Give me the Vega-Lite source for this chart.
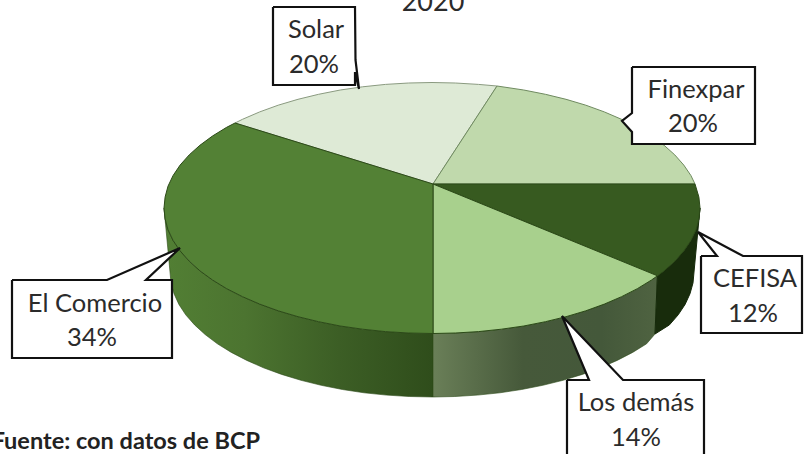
{"$schema":"https://vega.github.io/schema/vega-lite/v6.json","width":805,"height":454,"padding":0,"autosize":{"type":"none"},"background":"white","config":{"view":{"stroke":null}},
"datasets":{"shapes":[
{"part":"wallEC","i":1,"x":164,"y":208},{"part":"wallEC","i":2,"x":165.1,"y":218.9},{"part":"wallEC","i":3,"x":168,"y":229.8},{"part":"wallEC","i":4,"x":173.1,"y":240.5},{"part":"wallEC","i":5,"x":180.1,"y":250.9},{"part":"wallEC","i":6,"x":189.2,"y":261.1},{"part":"wallEC","i":7,"x":199.9,"y":270.8},{"part":"wallEC","i":8,"x":212.5,"y":280},{"part":"wallEC","i":9,"x":226.7,"y":288.7},{"part":"wallEC","i":10,"x":242.5,"y":296.7},{"part":"wallEC","i":11,"x":259.7,"y":304.1},{"part":"wallEC","i":12,"x":278.2,"y":310.8},{"part":"wallEC","i":13,"x":298,"y":316.7},{"part":"wallEC","i":14,"x":318.6,"y":321.7},{"part":"wallEC","i":15,"x":340.3,"y":326},{"part":"wallEC","i":16,"x":362.6,"y":329.2},{"part":"wallEC","i":17,"x":385.5,"y":331.6},{"part":"wallEC","i":18,"x":408.7,"y":333},{"part":"wallEC","i":19,"x":433,"y":333.5},{"part":"wallEC","i":20,"x":433,"y":397},{"part":"wallEC","i":21,"x":409.2,"y":396.5},{"part":"wallEC","i":22,"x":386.5,"y":395.1},{"part":"wallEC","i":23,"x":364.1,"y":392.8},{"part":"wallEC","i":24,"x":342.4,"y":389.5},{"part":"wallEC","i":25,"x":321.2,"y":385.3},{"part":"wallEC","i":26,"x":301,"y":380.3},{"part":"wallEC","i":27,"x":281.6,"y":374.4},{"part":"wallEC","i":28,"x":263.5,"y":367.8},{"part":"wallEC","i":29,"x":246.8,"y":360.4},{"part":"wallEC","i":30,"x":231.3,"y":352.4},{"part":"wallEC","i":31,"x":217.4,"y":343.8},{"part":"wallEC","i":32,"x":205.1,"y":334.5},{"part":"wallEC","i":33,"x":194.6,"y":324.9},{"part":"wallEC","i":34,"x":185.7,"y":314.8},{"part":"wallEC","i":35,"x":178.9,"y":304.4},{"part":"wallEC","i":36,"x":174,"y":293.7},{"part":"wallEC","i":37,"x":171,"y":282.9},{"part":"wallEC","i":38,"x":170,"y":272},{"part":"wallEC","i":39,"x":164,"y":208},
{"part":"wallLD","i":1,"x":433,"y":333.5},{"part":"wallLD","i":2,"x":455.3,"y":333},{"part":"wallLD","i":3,"x":478.5,"y":331.6},{"part":"wallLD","i":4,"x":501.4,"y":329.2},{"part":"wallLD","i":5,"x":523.7,"y":326},{"part":"wallLD","i":6,"x":545.4,"y":321.7},{"part":"wallLD","i":7,"x":566,"y":316.7},{"part":"wallLD","i":8,"x":585.8,"y":310.8},{"part":"wallLD","i":9,"x":604.3,"y":304.1},{"part":"wallLD","i":10,"x":621.5,"y":296.7},{"part":"wallLD","i":11,"x":637.3,"y":288.7},{"part":"wallLD","i":12,"x":651.5,"y":280},{"part":"wallLD","i":13,"x":657.4,"y":275.8},{"part":"wallLD","i":14,"x":655,"y":334},{"part":"wallLD","i":15,"x":646.6,"y":343.8},{"part":"wallLD","i":16,"x":632.7,"y":352.4},{"part":"wallLD","i":17,"x":617.2,"y":360.4},{"part":"wallLD","i":18,"x":600.4,"y":367.8},{"part":"wallLD","i":19,"x":582.4,"y":374.4},{"part":"wallLD","i":20,"x":563,"y":380.3},{"part":"wallLD","i":21,"x":542.8,"y":385.3},{"part":"wallLD","i":22,"x":521.6,"y":389.5},{"part":"wallLD","i":23,"x":499.9,"y":392.8},{"part":"wallLD","i":24,"x":477.5,"y":395.1},{"part":"wallLD","i":25,"x":454.8,"y":396.5},{"part":"wallLD","i":26,"x":433,"y":397},{"part":"wallLD","i":27,"x":433,"y":333.5},
{"part":"wallCE","i":1,"x":657.4,"y":275.8},{"part":"wallCE","i":2,"x":664.1,"y":270.8},{"part":"wallCE","i":3,"x":674.8,"y":261.1},{"part":"wallCE","i":4,"x":683.8,"y":250.9},{"part":"wallCE","i":5,"x":690.9,"y":240.5},{"part":"wallCE","i":6,"x":696,"y":229.8},{"part":"wallCE","i":7,"x":698.9,"y":218.9},{"part":"wallCE","i":8,"x":700,"y":208},{"part":"wallCE","i":9,"x":694,"y":272},{"part":"wallCE","i":10,"x":693,"y":282.9},{"part":"wallCE","i":11,"x":690,"y":293.7},{"part":"wallCE","i":12,"x":685.1,"y":304.4},{"part":"wallCE","i":13,"x":678.2,"y":314.8},{"part":"wallCE","i":14,"x":669.4,"y":324.9},{"part":"wallCE","i":15,"x":655,"y":334},{"part":"wallCE","i":16,"x":657.4,"y":275.8},
{"part":"Solar","i":1,"x":433,"y":184},{"part":"Solar","i":2,"x":235,"y":123},{"part":"Solar","i":3,"x":242.5,"y":119.3},{"part":"Solar","i":4,"x":259.7,"y":111.9},{"part":"Solar","i":5,"x":278.2,"y":105.2},{"part":"Solar","i":6,"x":298,"y":99.3},{"part":"Solar","i":7,"x":318.6,"y":94.3},{"part":"Solar","i":8,"x":340.3,"y":90},{"part":"Solar","i":9,"x":362.6,"y":86.8},{"part":"Solar","i":10,"x":385.5,"y":84.4},{"part":"Solar","i":11,"x":408.7,"y":83},{"part":"Solar","i":12,"x":432,"y":82.5},{"part":"Solar","i":13,"x":455.3,"y":83},{"part":"Solar","i":14,"x":478.5,"y":84.4},{"part":"Solar","i":15,"x":497,"y":86},{"part":"Solar","i":16,"x":433,"y":184},
{"part":"Finexpar","i":1,"x":433,"y":184},{"part":"Finexpar","i":2,"x":497,"y":86},{"part":"Finexpar","i":3,"x":523.7,"y":90},{"part":"Finexpar","i":4,"x":545.4,"y":94.3},{"part":"Finexpar","i":5,"x":566,"y":99.3},{"part":"Finexpar","i":6,"x":585.8,"y":105.2},{"part":"Finexpar","i":7,"x":604.3,"y":111.9},{"part":"Finexpar","i":8,"x":621.5,"y":119.3},{"part":"Finexpar","i":9,"x":637.3,"y":127.3},{"part":"Finexpar","i":10,"x":651.5,"y":136},{"part":"Finexpar","i":11,"x":664.1,"y":145.3},{"part":"Finexpar","i":12,"x":674.8,"y":154.9},{"part":"Finexpar","i":13,"x":683.8,"y":165.1},{"part":"Finexpar","i":14,"x":690.9,"y":175.5},{"part":"Finexpar","i":15,"x":695,"y":184},{"part":"Finexpar","i":16,"x":433,"y":184},
{"part":"CEFISA","i":1,"x":433,"y":184},{"part":"CEFISA","i":2,"x":695,"y":184},{"part":"CEFISA","i":3,"x":698.9,"y":197.1},{"part":"CEFISA","i":4,"x":700,"y":208},{"part":"CEFISA","i":5,"x":698.9,"y":218.9},{"part":"CEFISA","i":6,"x":696,"y":229.8},{"part":"CEFISA","i":7,"x":690.9,"y":240.5},{"part":"CEFISA","i":8,"x":683.8,"y":250.9},{"part":"CEFISA","i":9,"x":674.8,"y":261.1},{"part":"CEFISA","i":10,"x":664.1,"y":270.8},{"part":"CEFISA","i":11,"x":657.4,"y":275.8},{"part":"CEFISA","i":12,"x":433,"y":184},
{"part":"Los demás","i":1,"x":433,"y":184},{"part":"Los demás","i":2,"x":657.4,"y":275.8},{"part":"Los demás","i":3,"x":651.5,"y":280},{"part":"Los demás","i":4,"x":637.3,"y":288.7},{"part":"Los demás","i":5,"x":621.5,"y":296.7},{"part":"Los demás","i":6,"x":604.3,"y":304.1},{"part":"Los demás","i":7,"x":585.8,"y":310.8},{"part":"Los demás","i":8,"x":566,"y":316.7},{"part":"Los demás","i":9,"x":545.4,"y":321.7},{"part":"Los demás","i":10,"x":523.7,"y":326},{"part":"Los demás","i":11,"x":501.4,"y":329.2},{"part":"Los demás","i":12,"x":478.5,"y":331.6},{"part":"Los demás","i":13,"x":455.3,"y":333},{"part":"Los demás","i":14,"x":433,"y":333.5},{"part":"Los demás","i":15,"x":433,"y":184},
{"part":"El Comercio","i":1,"x":433,"y":184},{"part":"El Comercio","i":2,"x":433,"y":333.5},{"part":"El Comercio","i":3,"x":408.7,"y":333},{"part":"El Comercio","i":4,"x":385.5,"y":331.6},{"part":"El Comercio","i":5,"x":362.6,"y":329.2},{"part":"El Comercio","i":6,"x":340.3,"y":326},{"part":"El Comercio","i":7,"x":318.6,"y":321.7},{"part":"El Comercio","i":8,"x":298,"y":316.7},{"part":"El Comercio","i":9,"x":278.2,"y":310.8},{"part":"El Comercio","i":10,"x":259.7,"y":304.1},{"part":"El Comercio","i":11,"x":242.5,"y":296.7},{"part":"El Comercio","i":12,"x":226.7,"y":288.7},{"part":"El Comercio","i":13,"x":212.5,"y":280},{"part":"El Comercio","i":14,"x":199.9,"y":270.8},{"part":"El Comercio","i":15,"x":189.2,"y":261.1},{"part":"El Comercio","i":16,"x":180.1,"y":250.9},{"part":"El Comercio","i":17,"x":173.1,"y":240.5},{"part":"El Comercio","i":18,"x":168,"y":229.8},{"part":"El Comercio","i":19,"x":165.1,"y":218.9},{"part":"El Comercio","i":20,"x":164,"y":208},{"part":"El Comercio","i":21,"x":165.1,"y":197.1},{"part":"El Comercio","i":22,"x":168,"y":186.2},{"part":"El Comercio","i":23,"x":173.1,"y":175.5},{"part":"El Comercio","i":24,"x":180.1,"y":165.1},{"part":"El Comercio","i":25,"x":189.2,"y":154.9},{"part":"El Comercio","i":26,"x":199.9,"y":145.3},{"part":"El Comercio","i":27,"x":212.5,"y":136},{"part":"El Comercio","i":28,"x":226.7,"y":127.3},{"part":"El Comercio","i":29,"x":235,"y":123},{"part":"El Comercio","i":30,"x":433,"y":184},
{"part":"boxSolar","i":1,"x":273,"y":7},{"part":"boxSolar","i":2,"x":355,"y":7},{"part":"boxSolar","i":3,"x":355.5,"y":60},{"part":"boxSolar","i":4,"x":359,"y":89},{"part":"boxSolar","i":5,"x":355,"y":72},{"part":"boxSolar","i":6,"x":355,"y":85},{"part":"boxSolar","i":7,"x":273,"y":85},{"part":"boxSolar","i":8,"x":273,"y":7},
{"part":"boxFinexpar","i":1,"x":632,"y":67},{"part":"boxFinexpar","i":2,"x":755,"y":67},{"part":"boxFinexpar","i":3,"x":755,"y":144},{"part":"boxFinexpar","i":4,"x":632,"y":144},{"part":"boxFinexpar","i":5,"x":632,"y":132},{"part":"boxFinexpar","i":6,"x":622,"y":121},{"part":"boxFinexpar","i":7,"x":632,"y":113},{"part":"boxFinexpar","i":8,"x":632,"y":67},
{"part":"boxCEFISA","i":1,"x":701,"y":256},{"part":"boxCEFISA","i":2,"x":717,"y":256},{"part":"boxCEFISA","i":3,"x":698,"y":232},{"part":"boxCEFISA","i":4,"x":743,"y":256},{"part":"boxCEFISA","i":5,"x":802,"y":256},{"part":"boxCEFISA","i":6,"x":802,"y":333},{"part":"boxCEFISA","i":7,"x":701,"y":333},{"part":"boxCEFISA","i":8,"x":701,"y":256},
{"part":"boxLD","i":1,"x":567,"y":380},{"part":"boxLD","i":2,"x":589,"y":380},{"part":"boxLD","i":3,"x":562,"y":316},{"part":"boxLD","i":4,"x":623,"y":380},{"part":"boxLD","i":5,"x":704,"y":380},{"part":"boxLD","i":6,"x":704,"y":460},{"part":"boxLD","i":7,"x":567,"y":460},{"part":"boxLD","i":8,"x":567,"y":380},
{"part":"boxEC","i":1,"x":12,"y":280},{"part":"boxEC","i":2,"x":107,"y":280},{"part":"boxEC","i":3,"x":180,"y":248},{"part":"boxEC","i":4,"x":146,"y":280},{"part":"boxEC","i":5,"x":172,"y":280},{"part":"boxEC","i":6,"x":172,"y":358},{"part":"boxEC","i":7,"x":12,"y":358},{"part":"boxEC","i":8,"x":12,"y":280}
],
"labels":[{"t":"Solar","x":316,"y":38},{"t":"20%","x":314,"y":73},{"t":"Finexpar","x":696,"y":98},{"t":"20%","x":693,"y":132},{"t":"CEFISA","x":755,"y":287},{"t":"12%","x":753,"y":322},{"t":"Los demás","x":636,"y":411},{"t":"14%","x":636,"y":446},{"t":"El Comercio","x":95,"y":312},{"t":"34%","x":92,"y":346}]},
"encoding":{"x":{"field":"x","type":"quantitative","axis":null,"scale":{"domain":[0,805],"nice":false,"zero":false}},"y":{"field":"y","type":"quantitative","axis":null,"scale":{"domain":[454,0],"nice":false,"zero":false}}},
"layer":[
{"data":{"name":"shapes"},"transform":[{"filter":"datum.part==='wallEC'"}],"mark":{"type":"line","stroke":"#2c4a18","strokeWidth":1,"strokeOpacity":0.6,"fill":{"x1":0,"y1":0,"x2":1,"y2":0,"gradient":"linear","stops":[{"offset":0,"color":"#527f34"},{"offset":0.3,"color":"#4c7430"},{"offset":0.65,"color":"#3c5e25"},{"offset":1,"color":"#2f4d1b"}]}},"encoding":{"order":{"field":"i","type":"quantitative"}}},
{"data":{"name":"shapes"},"transform":[{"filter":"datum.part==='wallLD'"}],"mark":{"type":"line","stroke":"#2c4a18","strokeWidth":1,"strokeOpacity":0.6,"fill":{"x1":0,"y1":0,"x2":1,"y2":0,"gradient":"linear","stops":[{"offset":0,"color":"#6a7f58"},{"offset":0.4,"color":"#46593a"},{"offset":0.75,"color":"#44583a"},{"offset":1,"color":"#4f6341"}]}},"encoding":{"order":{"field":"i","type":"quantitative"}}},
{"data":{"name":"shapes"},"transform":[{"filter":"datum.part==='wallCE'"}],"mark":{"type":"line","stroke":"#162a0b","strokeWidth":1,"fill":"#182c0c"},"encoding":{"order":{"field":"i","type":"quantitative"}}},
{"data":{"name":"shapes"},"transform":[{"filter":"indexof(['Solar','Finexpar','CEFISA','Los demás','El Comercio'],datum.part)>=0"}],"mark":{"type":"line","strokeWidth":1},"encoding":{"order":{"field":"i","type":"quantitative"},"detail":{"field":"part"},"fill":{"field":"part","type":"nominal","legend":null,"scale":{"domain":["Solar","Finexpar","CEFISA","Los demás","El Comercio"],"range":["#deead6","#c0d9ac","#375a20","#a8d08d","#538135"]}},"stroke":{"field":"part","type":"nominal","legend":null,"scale":{"domain":["Solar","Finexpar","CEFISA","Los demás","El Comercio"],"range":["#8a9a80","#6f8a60","#2c4a18","#2c4a18","#2c4a18"]}}}},
{"data":{"name":"shapes"},"transform":[{"filter":"indexof(datum.part,'box')===0"}],"mark":{"type":"line","stroke":"#111111","strokeWidth":2.2,"fill":"white"},"encoding":{"order":{"field":"i","type":"quantitative"},"detail":{"field":"part"}}},
{"data":{"name":"labels"},"mark":{"type":"text","font":"Lato","fontSize":25.5,"color":"#2b2b2b","align":"center","baseline":"alphabetic"},"encoding":{"text":{"field":"t"}}},
{"data":{"values":[{"t":"2020","x":433,"y":11}]},"mark":{"type":"text","font":"Lato","fontSize":27,"color":"#2b2b2b","align":"center","baseline":"alphabetic"},"encoding":{"text":{"field":"t"}}},
{"data":{"values":[{"t":"Fuente: con datos de BCP","x":260,"y":449}]},"mark":{"type":"text","font":"Lato","fontWeight":"bold","fontSize":23.5,"color":"#222222","align":"right","baseline":"alphabetic"},"encoding":{"text":{"field":"t"}}}
]}
